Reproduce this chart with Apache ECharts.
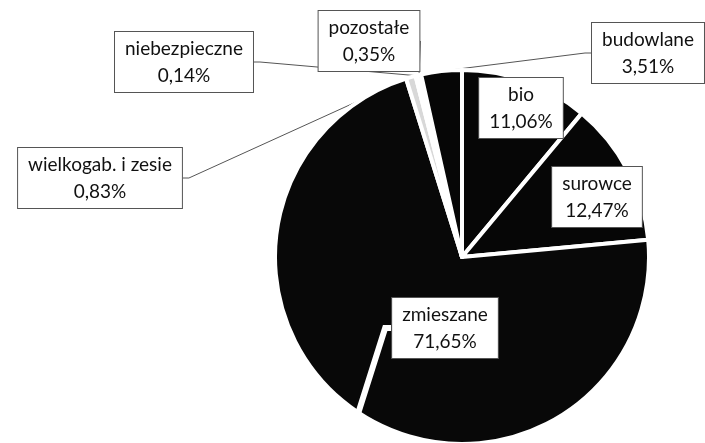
<!DOCTYPE html>
<html>
<head>
<meta charset="utf-8">
<style>
  html, body { margin: 0; padding: 0; background: #fff; }
  #main { width: 705px; height: 443px; }
</style>
<script src="https://cdn.jsdelivr.net/npm/echarts@6/dist/echarts.min.js"></script>
</head>
<body>
<div id="main"></div>
<script>
// kategorie odpadów i udział procentowy
var categories = ['bio', 'surowce', 'zmieszane', 'wielkogab. i zesie', 'niebezpieczne', 'pozostałe', 'budowlane'];
var shares = [11.06, 12.47, 71.65, 0.83, 0.14, 0.35, 3.51];

// kolory wycinków (małe są jasne)
var fills = ['#060606', '#060606', '#080808', '#d8d8d8', '#cfcfcf', '#e0e0e0', '#060606'];
// gdzie stoją ramki z opisami (środek ramki)
var labelPos = [[521, 108], [597, 197], [445, 328], [100, 178], [184, 62], [369, 41], [648, 53]];
var inside = [true, true, false, false, false, false, false];

var myChart = echarts.init(document.getElementById('main'));

var data = categories.map(function (name, i) {
  var item = {
    name: name,
    value: shares[i],
    itemStyle: { color: fills[i] }
  };
  if (inside[i]) {
    item.labelLine = { show: false };
  }
  if (i === 2) {
    // biały "dziób" ramki zmieszane, rysowany nad wycinkiem
    item.labelLine = { show: true, showAbove: true, lineStyle: { color: '#ffffff', width: 6 } };
  }
  return item;
});

myChart.setOption({
  animation: false,
  series: [{
    type: 'pie',
    center: [462, 257],
    radius: 187,
    startAngle: 90,
    clockwise: true,
    avoidLabelOverlap: false,
    itemStyle: {
      borderColor: '#fff',
      borderWidth: 4
    },
    emphasis: { disabled: true },
    label: {
      show: true,
      position: 'outside',
      formatter: function (p) {
        return p.name + '\n' + p.value.toFixed(2).replace('.', ',') + '%';
      },
      fontFamily: 'Lato',
      fontSize: 19,
      lineHeight: 27,
      color: '#111',
      backgroundColor: '#fff',
      borderColor: '#555',
      borderWidth: 1,
      padding: [4, 10, 2, 10],
      align: 'center'
    },
    labelLine: {
      show: true,
      length: 6,
      length2: 6,
      smooth: false,
      lineStyle: { color: '#555', width: 1 }
    },
    labelLayout: function (params) {
      var pos = labelPos[params.dataIndex];
      return {
        x: pos[0],
        y: pos[1],
        align: 'center',
        verticalAlign: 'middle'
      };
    },
    data: data
  }]
});

window.addEventListener('resize', function () {
  myChart.resize();
});
</script>
</body>
</html>
